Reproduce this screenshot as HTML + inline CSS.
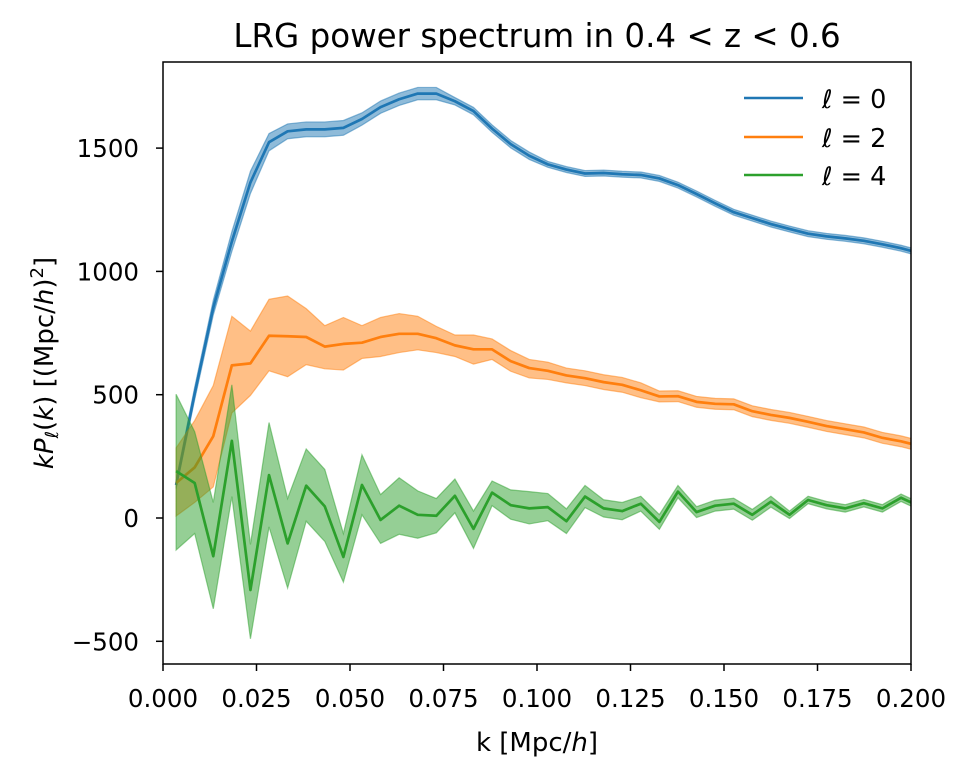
<!DOCTYPE html>
<html><head><meta charset="utf-8"><style>
body{margin:0;background:#fff;}
svg text{font-family:"DejaVu Sans","Liberation Sans",sans-serif;fill:#000;}
</style></head><body>
<svg id="chart" width="972" height="777" xmlns="http://www.w3.org/2000/svg">
<defs><clipPath id="clip"><rect x="163" y="62" width="748" height="602"/></clipPath></defs>
<rect x="0" y="0" width="972" height="777" fill="#fff"/>
<text x="537" y="47" font-size="32.5" text-anchor="middle">LRG power spectrum in 0.4 &lt; z &lt; 0.6</text>
<g id="plot" clip-path="url(#clip)"></g>
<g id="axes"></g>
<text x="537" y="751" font-size="26" text-anchor="middle">k [Mpc/<tspan font-style="italic">h</tspan>]</text>
<text transform="translate(53,363) rotate(-90)" font-size="26" text-anchor="middle"><tspan font-style="italic">kP</tspan><tspan font-style="italic" font-size="18" dy="5">ℓ</tspan><tspan dy="-5">(</tspan><tspan font-style="italic">k</tspan>) [(Mpc/<tspan font-style="italic">h</tspan>)<tspan font-size="18" dy="-10">2</tspan><tspan dy="10">]</tspan></text>
<g>
<line x1="744" y1="98" x2="803" y2="98" stroke="#1f77b4" stroke-width="2.5"/>
<text x="822" y="108" font-size="25.5"><tspan font-style="italic">ℓ</tspan> = 0</text>
<line x1="744" y1="137" x2="803" y2="137" stroke="#ff7f0e" stroke-width="2.5"/>
<text x="822" y="147" font-size="25.5"><tspan font-style="italic">ℓ</tspan> = 2</text>
<line x1="744" y1="175" x2="803" y2="175" stroke="#2ca02c" stroke-width="2.5"/>
<text x="822" y="185" font-size="25.5"><tspan font-style="italic">ℓ</tspan> = 4</text>
</g>
</svg>
<script>
const k0 = 0.0035, dk = 0.00497;
const xTicks = [0, 0.025, 0.05, 0.075, 0.1, 0.125, 0.15, 0.175, 0.2];
const xTickLabels = ["0.000","0.025","0.050","0.075","0.100","0.125","0.150","0.175","0.200"];
const yTicks = [-500, 0, 500, 1000, 1500];
const yTickLabels = ["−500","0","500","1000","1500"];
const p0 = [134,505,853,1121,1361,1524,1568,1576,1576,1582,1618,1666,1698,1721,1721,1690,1650,1579,1516,1469,1434,1413,1397,1399,1394,1391,1377,1350,1314,1276,1240,1216,1192,1172,1153,1142,1134,1124,1110,1094,1074];
const p0err = [15,25,30,40,45,35,30,30,30,30,25,25,25,25,25,15,15,15,15,15,12,12,12,12,12,12,12,12,12,12,12,12,12,12,12,12,12,12,12,12,12];
const p2 = [142,205,332,619,627,739,737,734,695,706,711,734,747,747,729,700,684,684,636,608,597,578,567,551,540,518,493,494,471,463,461,433,418,406,390,373,360,347,325,311,292];
const p2hi = [284,395,537,818,758,887,900,849,780,813,780,813,829,818,777,742,742,726,679,643,632,608,597,581,570,548,515,516,493,485,483,455,440,428,412,395,382,369,347,333,314];
const p2lo = [8,63,126,426,497,597,573,622,605,600,647,655,671,682,671,655,624,643,595,568,562,548,537,521,510,488,471,472,449,441,439,411,396,384,368,351,338,325,303,289,270];
const p4 = [190,142,-155,313,-292,174,-103,131,47,-158,134,-8,50,13,9,90,-44,103,52,39,44,-13,87,39,28,58,-16,107,24,50,58,13,66,13,73,52,39,60,39,82,47];
const p4hi = [502,350,63,540,-107,387,79,280,197,-63,256,95,163,110,79,158,28,150,114,107,99,37,132,74,63,88,14,132,46,72,80,35,88,28,88,67,54,75,54,97,62];
const p4lo = [-130,-63,-368,87,-490,-36,-284,-13,-95,-260,13,-103,-66,-82,-60,21,-123,50,-5,-24,-11,-63,42,4,-7,28,-46,82,2,28,36,-9,44,-2,58,37,24,45,24,67,32];

const X0=163,X1=911,Y0=664,Y1=62;
const xs = v => X0 + (v-0)/(0.2-0)*(X1-X0);
const ys = v => 518 - v*(123.3/500);
const NS="http://www.w3.org/2000/svg";
const plot=document.getElementById('plot'), axes=document.getElementById('axes');
function mk(tag, attrs, parent){const e=document.createElementNS(NS,tag);for(const a in attrs)e.setAttribute(a,attrs[a]);parent.appendChild(e);return e;}
function kx(i){return xs(k0+dk*i);}
function band(lo,hi,color,name){
  let d='';
  hi.forEach((v,i)=>{d+=(i?'L':'M')+kx(i).toFixed(2)+','+ys(v).toFixed(2);});
  for(let i=lo.length-1;i>=0;i--) d+='L'+kx(i).toFixed(2)+','+ys(lo[i]).toFixed(2);
  const e=mk('path',{d:d+'Z',fill:color,'fill-opacity':0.5,stroke:color,'stroke-opacity':0.5,'stroke-width':1.2},plot);
  
  
}
function line(vals,color,name){
  const pts=vals.map((v,i)=>kx(i).toFixed(2)+','+ys(v).toFixed(2)).join(' ');
  const e=mk('polyline',{points:pts,fill:'none',stroke:color,'stroke-width':2.7,'stroke-linejoin':'round'},plot);
  
  
}
band(p0.map((v,i)=>v-p0err[i]),p0.map((v,i)=>v+p0err[i]),'#1f77b4','band-l0');
line(p0,'#1f77b4','line-l0');
band(p2lo,p2hi,'#ff7f0e','band-l2');
line(p2,'#ff7f0e','line-l2');
band(p4lo,p4hi,'#2ca02c','band-l4');
line(p4,'#2ca02c','line-l4');

const fr=mk('rect',{x:X0,y:Y1,width:X1-X0,height:Y0-Y1,fill:'none',stroke:'#000','stroke-width':1.5},axes);


xTicks.forEach((t,i)=>{
  const x=xs(t);
  const tl=mk('line',{x1:x,y1:Y0,x2:x,y2:Y0+7,stroke:'#000','stroke-width':1.5},axes);
  
  
  const tx=mk('text',{x:x,y:Y0+43,'font-size':24.5,'text-anchor':'middle'},axes);
  tx.textContent=xTickLabels[i];
  
  
});
yTicks.forEach((t,i)=>{
  const y=ys(t);
  const tl=mk('line',{x1:X0-7,y1:y,x2:X0,y2:y,stroke:'#000','stroke-width':1.5},axes);
  
  
  const tx=mk('text',{x:X0-24,y:y+9,'font-size':24.5,'text-anchor':'end'},axes);
  tx.textContent=yTickLabels[i];
  
  
});
</script>
</body></html>
